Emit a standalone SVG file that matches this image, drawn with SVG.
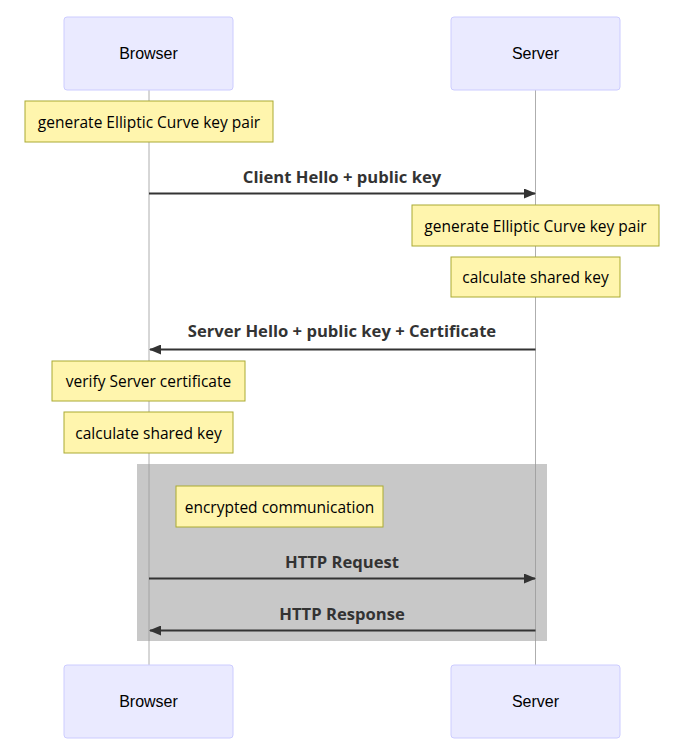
<svg xmlns="http://www.w3.org/2000/svg" width="677" height="749" viewBox="0 0 677 749">
<style>
.actor{fill:#eaeaff;stroke:#ccccff;stroke-width:1}
.atext{font-family:"Liberation Sans",Arial,sans-serif;font-size:16px;fill:#000;text-anchor:middle;dominant-baseline:central}
.note{fill:#fff5ad;stroke:#aaaa33;stroke-width:1}
.ntext{font-family:"Open Sans","Liberation Sans",sans-serif;font-size:15.5px;fill:#000;text-anchor:middle;dominant-baseline:central}
.life{stroke:#999;stroke-width:0.8}
.msg{stroke:#333;stroke-width:2;fill:none}
.mtext{font-family:"Open Sans","Liberation Sans",sans-serif;font-size:16.6px;font-weight:bold;fill:#333;text-anchor:middle;dominant-baseline:central}
</style>
<defs>
<marker id="arrow" viewBox="0 0 12 10" refX="11" refY="5" markerWidth="6" markerHeight="5" markerUnits="strokeWidth" orient="auto">
<path d="M0,0 L12,5 L0,10 z" fill="#333"/>
</marker>
</defs>
<g id="lifelines">
<line class="life" x1="149" y1="90" x2="149" y2="665"/>
<line class="life" x1="535.5" y1="90" x2="535.5" y2="665"/>
</g>
<g id="loop-box">
<rect x="137" y="464" width="410" height="177" fill="#c8c8c8"/>
</g>
<g id="lifelines-over">
<line class="life" x1="149" y1="464" x2="149" y2="641"/>
<line class="life" x1="535.5" y1="464" x2="535.5" y2="641"/>
</g>
<g id="actor-browser-top"><rect class="actor" x="64" y="17" width="169" height="73" rx="3"/><text class="atext" x="148.5" y="53.5">Browser</text></g>
<g id="actor-server-top"><rect class="actor" x="451" y="17" width="169" height="73" rx="3"/><text class="atext" x="535.5" y="53.5">Server</text></g>
<g id="actor-browser-bottom"><rect class="actor" x="64" y="665" width="169" height="73" rx="3"/><text class="atext" x="148.5" y="701.5">Browser</text></g>
<g id="actor-server-bottom"><rect class="actor" x="451" y="665" width="169" height="73" rx="3"/><text class="atext" x="535.5" y="701.5">Server</text></g>
<g id="note1"><rect class="note" x="25" y="101" width="248" height="41"/><text class="ntext" x="149" y="121.5">generate Elliptic Curve key pair</text></g>
<g id="note2"><rect class="note" x="412" y="205" width="247" height="41"/><text class="ntext" x="535.5" y="225.5">generate Elliptic Curve key pair</text></g>
<g id="note3"><rect class="note" x="451" y="257" width="169" height="40"/><text class="ntext" x="535.5" y="277">calculate shared key</text></g>
<g id="note4"><rect class="note" x="52" y="361" width="193" height="40"/><text class="ntext" x="148.5" y="380.5">verify Server certificate</text></g>
<g id="note5"><rect class="note" x="64" y="412" width="169" height="41"/><text class="ntext" x="148.5" y="432.5">calculate shared key</text></g>
<g id="note6"><rect class="note" x="176" y="486" width="207" height="41"/><text class="ntext" x="279.5" y="506.5">encrypted communication</text></g>
<g id="connectors">
<line class="msg" x1="149" y1="193.5" x2="535" y2="193.5" marker-end="url(#arrow)"/>
<text class="mtext" x="342" y="176">Client Hello + public key</text>
<line class="msg" x1="535.5" y1="349.5" x2="150" y2="349.5" marker-end="url(#arrow)"/>
<text class="mtext" x="342" y="330">Server Hello + public key + Certificate</text>
<line class="msg" x1="149" y1="578.5" x2="535" y2="578.5" marker-end="url(#arrow)"/>
<text class="mtext" x="342" y="561">HTTP Request</text>
<line class="msg" x1="535.5" y1="630.5" x2="150" y2="630.5" marker-end="url(#arrow)"/>
<text class="mtext" x="342" y="613">HTTP Response</text>
</g>
</svg>
